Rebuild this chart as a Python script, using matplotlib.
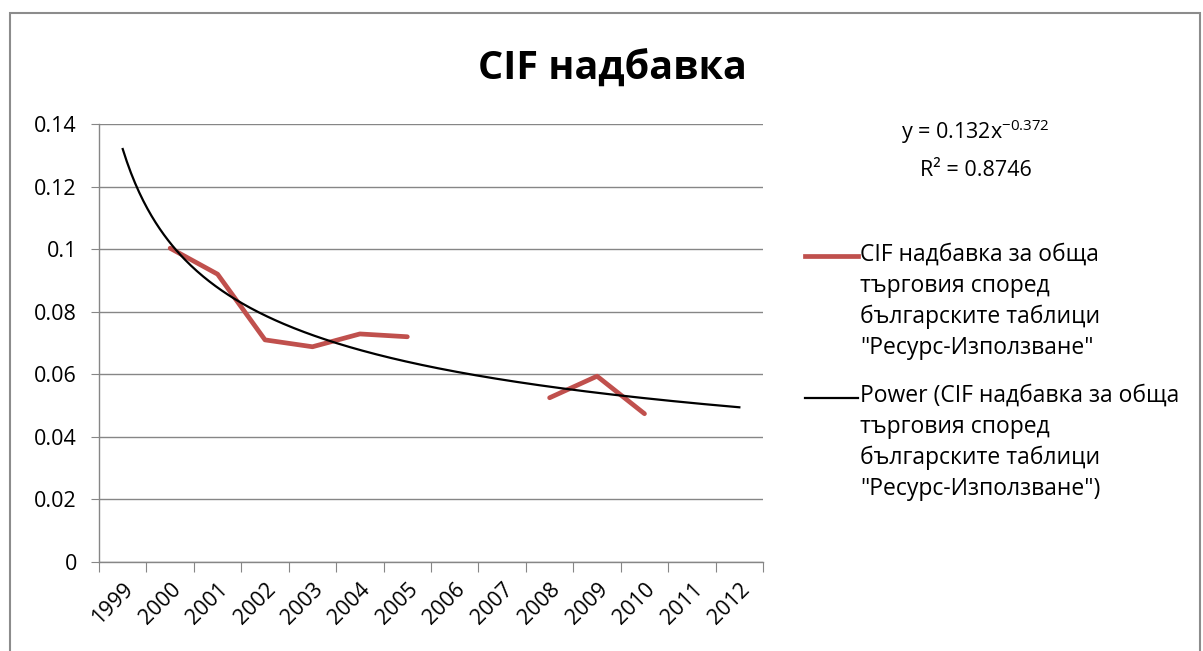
import numpy as np
import matplotlib.pyplot as plt
from matplotlib.lines import Line2D
from matplotlib.patches import Rectangle

plt.rcParams['font.family'] = ['Open Sans', 'DejaVu Sans']
plt.rcParams['mathtext.fontset'] = 'custom'
plt.rcParams['mathtext.rm'] = 'Open Sans'

# данные
years = ['1999', '2000', '2001', '2002', '2003', '2004', '2005',
         '2006', '2007', '2008', '2009', '2010', '2011', '2012']
cif = [np.nan, 0.1003, 0.0920, 0.0710, 0.0688, 0.0729, 0.0720,
       np.nan, np.nan, 0.0525, 0.0594, 0.0474, np.nan, np.nan]
# коэффициенты тренда из подписи на графике
trend_a = 0.132
trend_b = -0.372
trend_r2 = 0.8746

series_label = 'CIF надбавка за обща\nтърговия според\nбългарските таблици\n"Ресурс-Използване"'
trend_label = 'Power (CIF надбавка за обща\nтърговия според\nбългарските таблици\n"Ресурс-Използване")'

red = '#C0504D'
grid_c = '#868686'
fs = 15.5

fig = plt.figure(figsize=(12.03, 6.51), dpi=100)
ax = fig.add_axes([0.0823, 0.1367, 0.5520, 0.6728])

pos = np.arange(len(years)) + 0.5
ax.plot(pos, cif, color=red, lw=3.4, solid_capstyle='round', solid_joinstyle='round', zorder=3)

xt = np.linspace(1, len(years), 300)
ax.plot(xt - 0.5, trend_a * xt ** trend_b, color='black', lw=1.6, zorder=4)

ax.set_xlim(0, len(years))
ax.set_ylim(0, 0.14)
ax.set_yticks(np.arange(0, 0.141, 0.02))
ax.set_yticklabels(['0', '0.02', '0.04', '0.06', '0.08', '0.1', '0.12', '0.14'])
ax.yaxis.grid(True, color=grid_c, lw=1.0)
ax.set_axisbelow(True)

ax.set_xticks(np.arange(0, len(years) + 1))
ax.set_xticklabels([])
ax.set_xticks(pos, minor=True)
ax.set_xticklabels(years, minor=True, rotation=45, ha='right', va='top',
                   rotation_mode='anchor')
ax.tick_params(axis='x', which='minor', length=0, pad=12, labelsize=fs)
ax.tick_params(axis='x', which='major', length=7, color=grid_c, direction='out')
ax.tick_params(axis='y', length=6, color=grid_c, labelsize=fs, pad=10)

for s in ['top', 'right']:
    ax.spines[s].set_visible(False)
for s in ['left', 'bottom']:
    ax.spines[s].set_color(grid_c)
    ax.spines[s].set_linewidth(1.0)

fig.text(0.509, 0.893, 'CIF надбавка', ha='center', va='center',
         fontsize=28.5, fontweight='bold')

fig.text(0.811, 0.797, r'y = 0.132x$^{-0.372}$', ha='center', va='center', fontsize=fs)
fig.text(0.811, 0.738, 'R² = %.4f' % trend_r2, ha='center', va='center', fontsize=fs)

# легенда вручную
fig.add_artist(Line2D([0.669, 0.713], [0.606, 0.606], color=red, lw=3.4,
                      transform=fig.transFigure))
fig.text(0.715, 0.627, series_label, ha='left', va='top', fontsize=16.5,
         linespacing=1.38)
fig.add_artist(Line2D([0.669, 0.713], [0.389, 0.389], color='black', lw=1.6,
                      transform=fig.transFigure))
fig.text(0.715, 0.410, trend_label, ha='left', va='top', fontsize=16.5,
         linespacing=1.38)

fig.add_artist(Rectangle((0.0085, -0.05), 0.989, 1.03, fill=False,
                         edgecolor='#8c8c8c', lw=1.5, transform=fig.transFigure))

fig.savefig('out.png', dpi=100)
